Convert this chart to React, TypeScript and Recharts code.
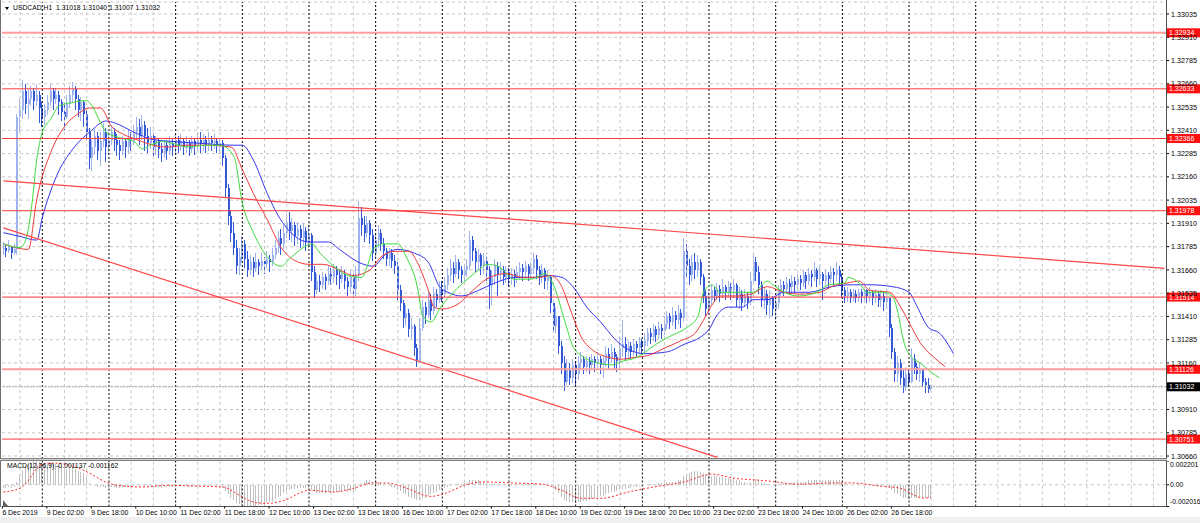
import React from 'react';
import { ComposedChart, Bar, Line, XAxis, YAxis, CartesianGrid, ReferenceLine } from 'recharts';

const FONT = '"Liberation Sans", Arial, sans-serif';

// ---- time axis ----
const SLOT_COUNT = 419; // bars shown plus empty future space
const TIME_TICKS = [0, 16, 32, 48, 64, 80, 96, 112, 128, 144, 160, 176, 192, 208, 224, 240, 256, 272, 288, 304, 320];
const TIME_LABELS = ['6 Dec 2019', '9 Dec 02:00', '9 Dec 18:00', '10 Dec 10:00', '11 Dec 02:00', '11 Dec 18:00', '12 Dec 10:00', '13 Dec 02:00', '13 Dec 18:00', '16 Dec 10:00', '17 Dec 02:00', '17 Dec 18:00', '18 Dec 10:00', '19 Dec 02:00', '19 Dec 18:00', '20 Dec 10:00', '23 Dec 02:00', '23 Dec 18:00', '24 Dec 10:00', '26 Dec 02:00', '26 Dec 18:00'];

// ---- price axis ----
const PRICE_TICKS = [1.33035, 1.3291, 1.32785, 1.3266, 1.32535, 1.3241, 1.32285, 1.3216, 1.32035, 1.3191, 1.31785, 1.3166, 1.31535, 1.3141, 1.31285, 1.3116, 1.31035, 1.3091, 1.30785, 1.3066];
const HIDDEN_PRICE_TICKS = [1.31035]; // fully covered by the bid label in the reference
const PRICE_DOMAIN = [1.30644, 1.330995];
const MACD_TICKS = [0.002201, 0, -0.002016];
const MACD_DOMAIN = [-0.002016, 0.002201];

// ---- candles (H1) ----
const OPEN0 = 1.3177;
const CLOSE = [
  1.3178,1.3176,1.3179,1.3175,1.3177,1.3248,1.3252,1.3262,1.3255,1.3258,
  1.3262,1.3257,1.3260,1.3253,1.3248,1.3252,1.3256,1.3262,1.3258,1.3260,
  1.3256,1.3251,1.3248,1.3255,1.3260,1.3263,1.3258,1.3252,1.3256,1.3250,
  1.3240,1.3226,1.3232,1.3238,1.3230,1.3235,1.3240,1.3232,1.3236,1.3240,
  1.3236,1.3233,1.3230,1.3235,1.3232,1.3237,1.3235,1.3240,1.3243,1.3238,
  1.3244,1.3238,1.3234,1.3238,1.3232,1.3235,1.3231,1.3229,1.3233,1.3230,
  1.3234,1.3232,1.3236,1.3233,1.3235,1.3232,1.3234,1.3231,1.3235,1.3233,
  1.3236,1.3234,1.3236,1.3233,1.3236,1.3234,1.3235,1.3233,1.3234,1.3226,
  1.3210,1.3195,1.3186,1.3178,1.3168,1.3173,1.3180,1.3172,1.3166,1.3170,
  1.3167,1.3170,1.3168,1.3171,1.3169,1.3172,1.3170,1.3174,1.3178,1.3183,
  1.3180,1.3186,1.3192,1.3187,1.3190,1.3184,1.3188,1.3183,1.3187,1.3181,
  1.3185,1.3165,1.3155,1.3160,1.3158,1.3162,1.3160,1.3164,1.3162,1.3166,
  1.3163,1.3161,1.3164,1.3160,1.3157,1.3162,1.3156,1.3163,1.3194,1.3190,
  1.3186,1.3191,1.3185,1.3175,1.3182,1.3186,1.3180,1.3176,1.3172,1.3175,
  1.3171,1.3168,1.3155,1.3148,1.3140,1.3143,1.3134,1.3136,1.3124,1.3117,
  1.3135,1.3146,1.3142,1.3150,1.3144,1.3153,1.3150,1.3156,1.3153,1.3158,
  1.3163,1.3167,1.3164,1.3170,1.3166,1.3163,1.3166,1.3168,1.3182,1.3176,
  1.3170,1.3174,1.3168,1.3171,1.3166,1.3158,1.3162,1.3168,1.3164,1.3166,
  1.3162,1.3165,1.3161,1.3164,1.3162,1.3165,1.3167,1.3165,1.3168,1.3164,
  1.3167,1.3172,1.3166,1.3163,1.3166,1.3160,1.3162,1.3148,1.3136,1.3141,
  1.3125,1.3116,1.3106,1.3113,1.3108,1.3115,1.3110,1.3116,1.3118,1.3114,
  1.3117,1.3115,1.3118,1.3116,1.3118,1.3115,1.3117,1.3121,1.3118,1.3122,
  1.3119,1.3117,1.3124,1.3126,1.3122,1.3125,1.3122,1.3126,1.3124,1.3127,
  1.3125,1.3128,1.3132,1.3130,1.3134,1.3131,1.3135,1.3133,1.3137,1.3141,
  1.3138,1.3142,1.3139,1.3143,1.3140,1.3176,1.3168,1.3163,1.3170,1.3166,
  1.3170,1.3162,1.3152,1.3145,1.3150,1.3155,1.3152,1.3156,1.3153,1.3157,
  1.3154,1.3157,1.3155,1.3158,1.3150,1.3153,1.3148,1.3152,1.3149,1.3160,
  1.3170,1.3165,1.3158,1.3150,1.3153,1.3147,1.3151,1.3145,1.3148,1.3155,
  1.3158,1.3156,1.3159,1.3157,1.3160,1.3158,1.3161,1.3159,1.3163,1.3160,
  1.3164,1.3162,1.3166,1.3161,1.3164,1.3160,1.3163,1.3161,1.3165,1.3163,
  1.3166,1.3162,1.3155,1.3152,1.3154,1.3151,1.3153,1.3151,1.3154,1.3152,
  1.3155,1.3152,1.3154,1.3151,1.3153,1.3150,1.3152,1.3149,1.3151,1.3135,
  1.3122,1.3110,1.3116,1.3108,1.3103,1.3110,1.3106,1.3118,1.3114,1.3110,
  1.3113,1.3106,1.3104,1.31018,1.31032,
];
const HIGH = [
  1.3181,1.3180,1.3182,1.3179,1.3180,1.3250,1.3258,1.3268,1.3266,1.3263,
  1.3265,1.3264,1.3266,1.3262,1.3256,1.3255,1.3260,1.3266,1.3264,1.3264,
  1.3262,1.3258,1.3255,1.3260,1.3265,1.3267,1.3265,1.3260,1.3259,1.3257,
  1.3252,1.3242,1.3236,1.3242,1.3240,1.3240,1.3245,1.3242,1.3240,1.3244,
  1.3242,1.3239,1.3236,1.3238,1.3237,1.3241,1.3240,1.3244,1.3248,1.3247,
  1.3249,1.3246,1.3242,1.3243,1.3240,1.3238,1.3237,1.3234,1.3236,1.3236,
  1.3238,1.3237,1.3239,1.3238,1.3239,1.3237,1.3238,1.3236,1.3238,1.3237,
  1.3240,1.3240,1.3239,1.3238,1.3240,1.3238,1.3239,1.3237,1.3237,1.3236,
  1.3228,1.3212,1.3198,1.3192,1.3182,1.3178,1.3184,1.3182,1.3176,1.3174,
  1.3173,1.3175,1.3172,1.3175,1.3173,1.3176,1.3174,1.3178,1.3182,1.3187,
  1.3188,1.3190,1.3196,1.3197,1.3194,1.3192,1.3192,1.3190,1.3191,1.3189,
  1.3190,1.3186,1.3168,1.3164,1.3163,1.3165,1.3164,1.3168,1.3167,1.3169,
  1.3168,1.3166,1.3168,1.3166,1.3162,1.3166,1.3164,1.3168,1.3203,1.3200,
  1.3195,1.3195,1.3193,1.3188,1.3186,1.3190,1.3188,1.3183,1.3178,1.3178,
  1.3177,1.3174,1.3170,1.3158,1.3150,1.3147,1.3145,1.3140,1.3137,1.3126,
  1.3140,1.3150,1.3149,1.3154,1.3153,1.3157,1.3156,1.3160,1.3160,1.3162,
  1.3167,1.3172,1.3170,1.3174,1.3172,1.3168,1.3169,1.3172,1.3187,1.3184,
  1.3178,1.3177,1.3175,1.3175,1.3173,1.3168,1.3166,1.3172,1.3170,1.3170,
  1.3168,1.3168,1.3167,1.3167,1.3166,1.3168,1.3170,1.3169,1.3171,1.3169,
  1.3170,1.3175,1.3174,1.3168,1.3169,1.3167,1.3166,1.3163,1.3150,1.3146,
  1.3140,1.3128,1.3120,1.3118,1.3116,1.3118,1.3117,1.3120,1.3122,1.3120,
  1.3120,1.3119,1.3121,1.3120,1.3122,1.3120,1.3120,1.3125,1.3124,1.3126,
  1.3124,1.3121,1.3130,1.3139,1.3130,1.3128,1.3127,1.3129,1.3128,1.3130,
  1.3129,1.3132,1.3135,1.3135,1.3137,1.3136,1.3138,1.3137,1.3141,1.3144,
  1.3143,1.3146,1.3144,1.3147,1.3145,1.3183,1.3180,1.3172,1.3174,1.3175,
  1.3174,1.3172,1.3164,1.3155,1.3154,1.3158,1.3157,1.3159,1.3158,1.3161,
  1.3158,1.3160,1.3159,1.3161,1.3159,1.3157,1.3155,1.3156,1.3154,1.3165,
  1.3175,1.3173,1.3168,1.3160,1.3157,1.3155,1.3155,1.3152,1.3152,1.3158,
  1.3161,1.3160,1.3162,1.3161,1.3163,1.3162,1.3164,1.3163,1.3166,1.3165,
  1.3167,1.3166,1.3170,1.3167,1.3168,1.3165,1.3166,1.3165,1.3168,1.3167,
  1.3170,1.3168,1.3164,1.3157,1.3157,1.3156,1.3156,1.3155,1.3156,1.3156,
  1.3157,1.3156,1.3157,1.3155,1.3156,1.3154,1.3155,1.3154,1.3155,1.3151,
  1.3137,1.3124,1.3120,1.3118,1.3112,1.3114,1.3112,1.3124,1.3121,1.3116,
  1.3116,1.3113,1.3108,1.3108,1.3104,
];
const LOW = [
  1.3174,1.3173,1.3175,1.3172,1.3174,1.3174,1.3240,1.3247,1.3250,1.3247,
  1.3254,1.3252,1.3254,1.3245,1.3243,1.3244,1.3249,1.3254,1.3252,1.3255,
  1.3249,1.3246,1.3241,1.3247,1.3253,1.3256,1.3252,1.3248,1.3246,1.3243,
  1.3236,1.3220,1.3219,1.3228,1.3225,1.3222,1.3232,1.3224,1.3228,1.3233,
  1.3230,1.3227,1.3225,1.3228,1.3226,1.3229,1.3230,1.3233,1.3236,1.3233,
  1.3236,1.3230,1.3229,1.3231,1.3227,1.3228,1.3226,1.3224,1.3226,1.3225,
  1.3228,1.3227,1.3229,1.3229,1.3230,1.3228,1.3229,1.3227,1.3229,1.3228,
  1.3230,1.3229,1.3230,1.3229,1.3230,1.3230,1.3231,1.3229,1.3229,1.3222,
  1.3205,1.3190,1.3181,1.3174,1.3164,1.3163,1.3170,1.3167,1.3162,1.3163,
  1.3162,1.3165,1.3163,1.3166,1.3164,1.3167,1.3165,1.3168,1.3172,1.3175,
  1.3174,1.3177,1.3183,1.3182,1.3181,1.3179,1.3180,1.3178,1.3179,1.3176,
  1.3178,1.3160,1.3151,1.3153,1.3154,1.3156,1.3155,1.3158,1.3158,1.3159,
  1.3158,1.3156,1.3159,1.3156,1.3152,1.3154,1.3151,1.3152,1.3160,1.3184,
  1.3181,1.3183,1.3180,1.3171,1.3173,1.3178,1.3176,1.3172,1.3168,1.3168,
  1.3167,1.3164,1.3150,1.3144,1.3135,1.3136,1.3130,1.3129,1.3120,1.3114,
  1.3116,1.3133,1.3137,1.3140,1.3139,1.3142,1.3146,1.3148,1.3149,1.3151,
  1.3155,1.3160,1.3159,1.3162,1.3161,1.3159,1.3160,1.3162,1.3166,1.3171,
  1.3165,1.3166,1.3163,1.3164,1.3160,1.3145,1.3147,1.3158,1.3152,1.3160,
  1.3158,1.3159,1.3157,1.3158,1.3157,1.3159,1.3161,1.3160,1.3161,1.3160,
  1.3161,1.3164,1.3161,1.3158,1.3159,1.3156,1.3155,1.3143,1.3132,1.3132,
  1.3121,1.3110,1.3101,1.3104,1.3104,1.3105,1.3104,1.3107,1.3112,1.3110,
  1.3111,1.3110,1.3112,1.3111,1.3113,1.3110,1.3108,1.3114,1.3113,1.3116,
  1.3113,1.3111,1.3113,1.3119,1.3117,1.3118,1.3118,1.3120,1.3119,1.3121,
  1.3121,1.3122,1.3125,1.3126,1.3128,1.3127,1.3129,1.3129,1.3131,1.3134,
  1.3134,1.3136,1.3134,1.3137,1.3135,1.3138,1.3162,1.3158,1.3160,1.3161,
  1.3162,1.3158,1.3148,1.3141,1.3143,1.3147,1.3149,1.3150,1.3149,1.3151,
  1.3150,1.3152,1.3150,1.3151,1.3146,1.3145,1.3144,1.3146,1.3145,1.3147,
  1.3158,1.3160,1.3153,1.3146,1.3145,1.3142,1.3140,1.3141,1.3139,1.3145,
  1.3152,1.3152,1.3153,1.3153,1.3154,1.3154,1.3155,1.3155,1.3157,1.3156,
  1.3158,1.3157,1.3160,1.3157,1.3158,1.3150,1.3157,1.3156,1.3159,1.3158,
  1.3160,1.3158,1.3151,1.3148,1.3149,1.3148,1.3149,1.3148,1.3149,1.3148,
  1.3149,1.3148,1.3149,1.3147,1.3148,1.3146,1.3146,1.3144,1.3145,1.3130,
  1.3118,1.3106,1.3106,1.3104,1.3100,1.3101,1.3103,1.3105,1.3110,1.3107,
  1.3106,1.3103,1.3100,1.3100,1.31007,
];

// ---- Alligator lines: [bar index, value] ----
const LIPS = [[0,1.3180],[6,1.3178],[8,1.3182],[10,1.3198],[12,1.3225],[14,1.3240],[17,1.3247],[20,1.3254],[25,1.3256],[30,1.3257],[32,1.3254],[35,1.3245],[37,1.3240],[42,1.3237],[47,1.3235],[50,1.3231],[53,1.3233],[57,1.3235],[61,1.3234],[66,1.3232],[73,1.3233],[78,1.3233],[83,1.3227],[86,1.3202],[90,1.3186],[95,1.3173],[100,1.3168],[103,1.3172],[107,1.3177],[111,1.3180],[114,1.3175],[119,1.3168],[124,1.3163],[129,1.3162],[131,1.3168],[133,1.3177],[137,1.3180],[142,1.3180],[145,1.3173],[149,1.3157],[151,1.3141],[154,1.3138],[157,1.3145],[162,1.3154],[167,1.3161],[172,1.3167],[174,1.3169],[178,1.3168],[184,1.3161],[190,1.3161],[195,1.3164],[198,1.3158],[202,1.3139],[205,1.3125],[209,1.3119],[214,1.3116],[219,1.3115],[223,1.3117],[228,1.3119],[233,1.3124],[237,1.3128],[241,1.3131],[246,1.3135],[250,1.3141],[252,1.3154],[255,1.3158],[258,1.3154],[264,1.3154],[270,1.3154],[275,1.3160],[277,1.3158],[281,1.3154],[286,1.3152],[291,1.3153],[294,1.3155],[297,1.3158],[303,1.3159],[304,1.3162],[308,1.3159],[311,1.3154],[316,1.3154],[320,1.3152],[322,1.3143],[324,1.3128],[327,1.3119],[330,1.3116],[334,1.3111],[337,1.3108]];
const TEETH = [[0,1.3180],[9,1.3177],[12,1.3204],[17,1.3229],[22,1.3243],[27,1.3250],[31,1.3253],[35,1.3253],[39,1.3243],[43,1.3239],[48,1.3236],[54,1.3233],[59,1.3232],[66,1.3233],[73,1.3233],[82,1.3232],[86,1.3220],[90,1.3207],[95,1.3193],[100,1.3178],[105,1.3171],[110,1.3169],[115,1.3169],[121,1.3166],[126,1.3163],[132,1.3166],[136,1.3173],[141,1.3176],[146,1.3176],[149,1.3170],[153,1.3155],[155,1.3146],[158,1.3145],[164,1.3148],[169,1.3155],[175,1.3162],[181,1.3164],[187,1.3162],[193,1.3162],[197,1.3163],[201,1.3157],[204,1.3145],[208,1.3130],[213,1.3122],[218,1.3119],[222,1.3118],[227,1.3119],[232,1.3120],[238,1.3124],[244,1.3128],[249,1.3132],[252,1.3139],[255,1.3147],[258,1.3152],[263,1.3152],[269,1.3153],[275,1.3157],[281,1.3154],[287,1.3153],[294,1.3154],[298,1.3157],[304,1.3159],[308,1.3160],[312,1.3155],[319,1.3154],[323,1.3146],[327,1.3135],[330,1.3127],[335,1.3119],[339,1.3114]];
const JAW = [[0,1.3186],[6,1.3184],[12,1.3182],[14,1.3194],[19,1.3216],[25,1.3231],[31,1.3240],[37,1.3246],[40,1.3245],[47,1.3240],[54,1.3236],[61,1.3235],[71,1.3234],[83,1.3233],[86,1.3233],[90,1.3225],[95,1.3207],[99,1.3195],[105,1.3184],[110,1.3181],[117,1.3181],[121,1.3177],[128,1.3170],[133,1.3168],[138,1.3175],[142,1.3177],[148,1.3175],[153,1.3170],[157,1.3157],[160,1.3154],[165,1.3152],[171,1.3155],[177,1.3159],[184,1.3162],[191,1.3162],[196,1.3163],[201,1.3162],[205,1.3157],[210,1.3146],[215,1.3138],[220,1.3129],[223,1.3125],[231,1.3121],[239,1.3122],[245,1.3126],[251,1.3130],[254,1.3134],[257,1.3142],[261,1.3146],[266,1.3146],[270,1.3150],[275,1.3150],[281,1.3154],[290,1.3154],[298,1.3157],[306,1.3158],[312,1.3158],[320,1.3157],[326,1.3154],[329,1.3146],[333,1.3135],[337,1.3132],[342,1.3121]];

// ---- MACD(12,26,9) ----
const MACD_MAIN = [
  -0.0003,-0.0003,-0.0002,-0.0003,-0.0002,0.0003,0.0009,0.0014,0.0017,0.0019,
  0.0021,0.0022,0.0022,0.0021,0.0020,0.0019,0.0019,0.0020,0.0020,0.0019,
  0.0018,0.0017,0.0015,0.0015,0.0016,0.0016,0.0015,0.0013,0.0012,0.0011,
  0.0007,0.0002,0.0000,-0.0001,-0.0002,-0.0002,-0.0002,-0.0003,-0.0003,-0.0002,
  -0.0002,-0.0003,-0.0003,-0.0002,-0.0002,-0.0002,-0.0002,-0.0001,0.0000,-0.0001,
  0.0000,-0.0001,-0.0001,-0.0001,-0.0002,-0.0002,-0.0002,-0.0003,-0.0002,-0.0002,
  -0.0002,-0.0002,-0.0001,-0.0001,-0.0001,-0.0001,-0.0001,-0.0002,-0.0001,-0.0001,
  -0.0001,-0.0001,-0.0001,-0.0001,-0.0001,-0.0001,-0.0001,-0.0001,-0.0001,-0.0003,
  -0.0006,-0.0009,-0.0012,-0.0014,-0.0017,-0.0018,-0.0019,-0.0020,-0.0020,-0.00202,
  -0.0020,-0.0020,-0.0019,-0.0019,-0.0018,-0.0017,-0.0016,-0.0015,-0.0013,-0.0011,
  -0.0010,-0.0008,-0.0006,-0.0005,-0.0004,-0.0004,-0.0003,-0.0003,-0.0003,-0.0003,
  -0.0003,-0.0005,-0.0007,-0.0008,-0.0008,-0.0008,-0.0008,-0.0007,-0.0007,-0.0007,
  -0.0007,-0.0007,-0.0006,-0.0006,-0.0007,-0.0006,-0.0007,-0.0006,-0.0001,0.0002,
  0.0003,0.0004,0.0004,0.0003,0.0003,0.0003,0.0002,0.0001,0.0000,-0.0001,
  -0.0002,-0.0003,-0.0005,-0.0006,-0.0008,-0.0009,-0.0011,-0.0012,-0.0013,-0.0014,
  -0.0014,-0.0013,-0.0012,-0.0010,-0.0009,-0.0008,-0.0007,-0.0005,-0.0004,-0.0003,
  -0.0002,-0.0001,0.0000,0.0001,0.0001,0.0001,0.0002,0.0002,0.0004,0.0004,
  0.0004,0.0004,0.0003,0.0003,0.0002,0.0001,0.0001,0.0002,0.0001,0.0001,
  0.0001,0.0001,0.0001,0.0001,0.0001,0.0001,0.0001,0.0001,0.0002,0.0001,
  0.0001,0.0002,0.0001,0.0001,0.0001,0.0000,0.0000,-0.0001,-0.0004,-0.0005,
  -0.0008,-0.0011,-0.0014,-0.0015,-0.0016,-0.0016,-0.0017,-0.0016,-0.0016,-0.0015,
  -0.0015,-0.0014,-0.0013,-0.0012,-0.0011,-0.0010,-0.0010,-0.0009,-0.0008,-0.0007,
  -0.0007,-0.0006,-0.0005,-0.0004,-0.0004,-0.0003,-0.0003,-0.0002,-0.0002,-0.0001,
  -0.0001,0.0000,0.0000,0.0001,0.0001,0.0001,0.0002,0.0002,0.0002,0.0003,
  0.0003,0.0003,0.0003,0.0004,0.0004,0.0008,0.0010,0.0011,0.0012,0.0013,
  0.0013,0.0012,0.0011,0.0009,0.0009,0.0008,0.0008,0.0008,0.0007,0.0007,
  0.0006,0.0006,0.0005,0.0005,0.0004,0.0004,0.0003,0.0003,0.0002,0.0003,
  0.0005,0.0005,0.0004,0.0003,0.0002,0.0001,0.0001,0.0000,0.0000,0.0001,
  0.0001,0.0002,0.0002,0.0002,0.0002,0.0003,0.0003,0.0003,0.0003,0.0003,
  0.0004,0.0004,0.0004,0.0004,0.0004,0.0004,0.0004,0.0004,0.0004,0.0004,
  0.0004,0.0004,0.0002,0.0001,0.0001,0.0000,0.0000,0.0000,0.0000,0.0000,
  0.0000,0.0000,0.0000,-0.0001,-0.0001,-0.0001,-0.0001,-0.0001,-0.0001,-0.0003,
  -0.0005,-0.0008,-0.0009,-0.0010,-0.0012,-0.0012,-0.0013,-0.0012,-0.0012,-0.0012,
  -0.0012,-0.0012,-0.0012,-0.0012,-0.001137,
];
const MACD_SIGNAL = [[0,-0.00067],[6,-0.00033],[10,0.00073],[13,0.00183],[18,0.00201],[27,0.00155],[31,0.00108],[37,0.00023],[41,-0.00005],[50,-0.00021],[59,-0.00005],[71,-0.00014],[79,-0.00021],[85,-0.00098],[90,-0.00161],[95,-0.00173],[101,-0.00145],[110,-0.00052],[119,-0.00067],[126,-0.00033],[133,0.00017],[139,0.00014],[144,-0.00021],[154,-0.00108],[159,-0.0008],[166,-0.00005],[173,0.00026],[183,0.00017],[194,0.00005],[201,-0.00052],[208,-0.00126],[215,-0.00126],[225,-0.00067],[234,-0.00021],[245,0.00026],[255,0.00098],[263,0.00061],[275,0.00036],[286,0.00005],[299,0.00017],[305,0.00017],[316,-0.00014],[323,-0.00033],[328,-0.00098],[331,-0.00124],[334,-0.001162]];

// ---- chart objects ----
const LEVELS = [1.32934, 1.32633, 1.32366, 1.31978, 1.31514, 1.31126, 1.30751];
const LIGHT_LEVELS = [1.32934, 1.31126];
const BID = 1.31032;
const TREND_UPPER = [[0, 1.32138], [418, 1.31668]];
const TREND_LOWER = [[0, 1.31886], [257, 1.30653]];

const BULL = '#9db3ee';
const BEAR = '#3459d6';

const ROWS: any[] = Array.from({ length: SLOT_COUNT }, (_, i) => {
  const r: any = { i };
  if (i < CLOSE.length) {
    r.open = i === 0 ? OPEN0 : CLOSE[i - 1];
    r.close = CLOSE[i];
    r.high = HIGH[i];
    r.low = LOW[i];
    r.range = [LOW[i], HIGH[i]];
    r.macd = MACD_MAIN[i];
  }
  return r;
});
LIPS.forEach(([i, v]) => { ROWS[i].lips = v; });
TEETH.forEach(([i, v]) => { ROWS[i].teeth = v; });
JAW.forEach(([i, v]) => { ROWS[i].jaw = v; });
MACD_SIGNAL.forEach(([i, v]) => { ROWS[i].sig = v; });

const GRID_X: number[] = [];
for (let i = 6; i < SLOT_COUNT; i += 8) GRID_X.push(i);
const isSeparator = (i: number) => i >= 14 && i <= 350 && (i - 14) % 24 === 0;

const Candle = (p: any) => {
  const { x, y, width, height, payload } = p;
  if (!payload || payload.high == null || height == null) return null;
  const top = Math.min(y, y + height);
  const h = Math.abs(height);
  const { open, close, high, low } = payload;
  const span = high - low || 1e-9;
  const yOf = (v: number) => top + ((high - v) / span) * h;
  const cx = Math.round(x + width / 2);
  const col = close >= open ? BULL : BEAR;
  const yo = yOf(open);
  const yc = yOf(close);
  const bt = Math.min(yo, yc);
  const bh = Math.max(Math.abs(yc - yo), 1);
  return (
    <g shapeRendering="crispEdges">
      <line x1={cx - 0.5} x2={cx - 0.5} y1={top} y2={top + h} stroke={col} strokeWidth={1} />
      <rect x={cx - 1} y={bt} width={2} height={bh} fill={col} />
    </g>
  );
};

const Hist = (p: any) => {
  const { x, y, width, height, payload } = p;
  if (!payload || payload.macd == null || height == null) return null;
  const top = Math.min(y, y + height);
  const h = Math.max(Math.abs(height), 0.5);
  const cx = Math.round(x + width / 2) - 0.5;
  return <line x1={cx} x2={cx} y1={top} y2={top + h} stroke="#c0c0c0" strokeWidth={1} shapeRendering="crispEdges" />;
};

const PriceTick = (p: any) => {
  const { x, y, payload } = p;
  const v = Number(payload.value);
  const hidden = HIDDEN_PRICE_TICKS.some((t) => Math.abs(t - v) < 1e-7);
  return (
    <g>
      <line x1={x} x2={x + 3} y1={y} y2={y} stroke="#000" strokeWidth={1} />
      {hidden ? null : (
        <text x={x + 5} y={y} dy={2.6} fontSize={7.2} fontFamily={FONT} fill="#000">{v.toFixed(5)}</text>
      )}
    </g>
  );
};

const MacdTick = (p: any) => {
  const { x, y, payload } = p;
  const v = Number(payload.value);
  const txt = v === 0 ? '0.00' : v.toFixed(6);
  const dy = v > 0 ? 5.5 : v < 0 ? -2.5 : 2.6;
  return (
    <g>
      <line x1={x} x2={x + 3} y1={y} y2={y} stroke="#000" strokeWidth={1} />
      <text x={x + 4} y={y} dy={dy} fontSize={6.8} fontFamily={FONT} fill="#000">{txt}</text>
    </g>
  );
};

const TimeTick = (p: any) => {
  const { x, y, payload } = p;
  const k = TIME_TICKS.indexOf(Number(payload.value));
  if (k < 0) return null;
  return (
    <g>
      <line x1={x - 1} x2={x - 1} y1={y} y2={y + 2} stroke="#000" strokeWidth={1} />
      <text x={x - 1} y={y} dy={8} fontSize={6.9} fontFamily={FONT} fill="#000">{TIME_LABELS[k]}</text>
    </g>
  );
};

const makeLevelLabel = (value: number, fill: string) => (props: any) => {
  const vb = props.viewBox || props;
  if (!vb || vb.y == null) return null;
  const right = vb.x + vb.width;
  return (
    <g>
      <rect x={right + 1} y={vb.y - 4.5} width={33} height={9} fill={fill} />
      <text x={right + 3} y={vb.y} dy={2.6} fontSize={7} fontFamily={FONT} fill="#fff">{value.toFixed(5)}</text>
    </g>
  );
};

export default function App() {
  return (
    <div style={{ position: 'absolute', left: 0, top: 0, width: 1200, height: 523, background: '#fff', overflow: 'hidden', fontFamily: FONT }}>
      <div style={{ position: 'absolute', left: 0, top: 517, width: 1200, height: 6, background: '#f0f0f0' }} />
      <div style={{ position: 'absolute', left: 0, top: 0 }}>
        <ComposedChart width={1200} height={461} data={ROWS} margin={{ top: 2, right: 0, bottom: 2, left: 2 }} barCategoryGap={0}>
          <CartesianGrid vertical={false} stroke="#c8c8c8" strokeDasharray="3 3" />
          <XAxis dataKey="i" type="category" hide />
          <YAxis orientation="right" width={34} type="number" domain={PRICE_DOMAIN} allowDataOverflow ticks={PRICE_TICKS} interval={0} tickLine={false} axisLine={false} tickSize={0} tickMargin={0} tick={<PriceTick />} />
          {GRID_X.map((i) => (
            <ReferenceLine key={'g' + i} x={i} stroke={isSeparator(i) ? '#000' : '#c8c8c8'} strokeDasharray={isSeparator(i) ? '2 2' : '3 3'} />
          ))}
          <ReferenceLine y={BID} stroke="#a8a8a8" strokeDasharray="2 1" label={makeLevelLabel(BID, '#000')} />
          <Bar dataKey="range" shape={<Candle />} isAnimationActive={false} />
          <Line dataKey="jaw" type="monotone" stroke="#3535f0" strokeWidth={1} dot={false} activeDot={false} connectNulls isAnimationActive={false} />
          <Line dataKey="teeth" type="monotone" stroke="#f03a3a" strokeWidth={1} dot={false} activeDot={false} connectNulls isAnimationActive={false} />
          <Line dataKey="lips" type="monotone" stroke="#3ddc3d" strokeWidth={1} dot={false} activeDot={false} connectNulls isAnimationActive={false} />
          <ReferenceLine segment={[{ x: TREND_UPPER[0][0], y: TREND_UPPER[0][1] }, { x: TREND_UPPER[1][0], y: TREND_UPPER[1][1] }]} stroke="#ff4848" strokeWidth={1.2} />
          <ReferenceLine segment={[{ x: TREND_LOWER[0][0], y: TREND_LOWER[0][1] }, { x: TREND_LOWER[1][0], y: TREND_LOWER[1][1] }]} stroke="#ff4848" strokeWidth={1.2} />
          {LEVELS.map((v) => (
            <ReferenceLine key={'l' + v} y={v} stroke={LIGHT_LEVELS.includes(v) ? '#ff9c9c' : '#ff3a3a'} strokeWidth={LIGHT_LEVELS.includes(v) ? 2 : 1} label={makeLevelLabel(v, '#ff1010')} />
          ))}
        </ComposedChart>
      </div>
      <div style={{ position: 'absolute', left: 0, top: 461 }}>
        <ComposedChart width={1200} height={62} data={ROWS} margin={{ top: 0, right: 0, bottom: 5.5, left: 2 }} barCategoryGap={0}>
          <XAxis dataKey="i" type="category" height={11} ticks={TIME_TICKS} interval={0} tickLine={false} tickSize={0} tickMargin={0} axisLine={{ stroke: '#505050' }} tick={<TimeTick />} />
          <YAxis orientation="right" width={34} type="number" domain={MACD_DOMAIN} allowDataOverflow ticks={MACD_TICKS} interval={0} tickLine={false} axisLine={false} tickSize={0} tickMargin={0} tick={<MacdTick />} />
          {GRID_X.map((i) => (
            <ReferenceLine key={'m' + i} x={i} stroke={isSeparator(i) ? '#000' : '#c8c8c8'} strokeDasharray={isSeparator(i) ? '2 2' : '3 3'} />
          ))}
          <ReferenceLine y={0} stroke="#c8c8c8" strokeDasharray="3 3" />
          <Bar dataKey="macd" shape={<Hist />} isAnimationActive={false} />
          <Line dataKey="sig" type="monotone" stroke="#ff2a2a" strokeWidth={1} strokeDasharray="2 2" dot={false} activeDot={false} connectNulls isAnimationActive={false} />
        </ComposedChart>
      </div>
      {/* frame */}
      <div style={{ position: 'absolute', left: 0, top: 0, width: 1, height: 507, background: '#707070' }} />
      <div style={{ position: 'absolute', left: 1166, top: 0, width: 1, height: 507, background: '#505050' }} />
      <div style={{ position: 'absolute', left: 0, top: 458, width: 1167, height: 1, background: '#808080' }} />
      <div style={{ position: 'absolute', left: 0, top: 459, width: 1167, height: 1, background: '#d0d0d0' }} />
      <div style={{ position: 'absolute', left: 0, top: 460, width: 1167, height: 1, background: '#808080' }} />
      <div style={{ position: 'absolute', left: 3, top: 500, width: 0, height: 0, borderLeft: '5px solid #606060', borderTop: '6px solid transparent' }} />
      {/* header */}
      <div style={{ position: 'absolute', left: 5, top: 7, width: 0, height: 0, borderLeft: '2.5px solid transparent', borderRight: '2.5px solid transparent', borderTop: '3px solid #000' }} />
      <div style={{ position: 'absolute', left: 13, top: 3, fontSize: 6.8, lineHeight: '10px', color: '#000', whiteSpace: 'pre' }}>USDCAD,H1  1.31018 1.31040 1.31007 1.31032</div>
      <div style={{ position: 'absolute', left: 7, top: 461, fontSize: 6.8, lineHeight: '10px', color: '#000', whiteSpace: 'pre' }}>MACD(12,26,9) -0.001137 -0.001162</div>
    </div>
  );
}
